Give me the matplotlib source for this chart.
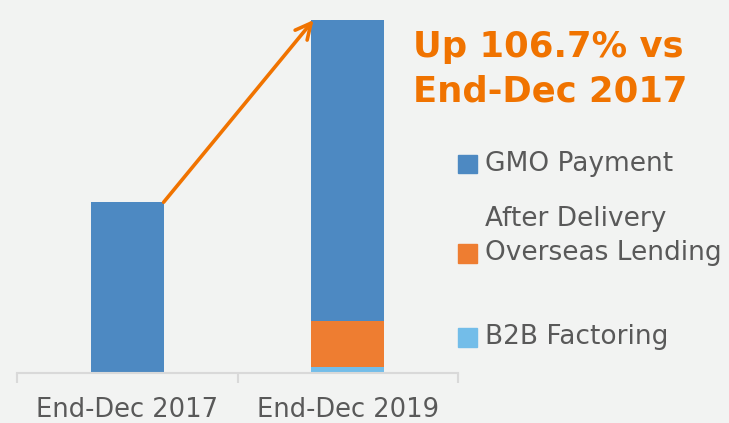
import matplotlib

matplotlib.use("Agg")
import matplotlib.pyplot as plt
from matplotlib.patches import Rectangle

# lending balance, indexed to End-Dec 2017 = 100
categories = ["End-Dec 2017", "End-Dec 2019"]
gmo_payment = [100.0, 176.2]
overseas_lending = [0.0, 27.0]
b2b_factoring = [0.0, 3.5]

series_labels = ["GMO Payment", "After Delivery\nOverseas Lending", "B2B Factoring"]
series_colors = ["#4d89c2", "#ee7d31", "#73bde9"]
callout = ["Up 106.7% vs", "End-Dec 2017"]

BG = "#f2f3f2"
ORANGE = "#f07300"
GREY = "#595959"


def main() -> None:
    fig = plt.figure(figsize=(7.29, 4.23), dpi=100, facecolor=BG)
    ax = fig.add_axes([17 / 729, 50 / 423, 441 / 729, 353 / 423])
    ax.set_facecolor(BG)

    x = range(len(categories))
    width = 0.33
    ax.bar(x, b2b_factoring, width, color=series_colors[2])
    ax.bar(x, overseas_lending, width, bottom=b2b_factoring, color=series_colors[1])
    base = [a + b for a, b in zip(b2b_factoring, overseas_lending)]
    ax.bar(x, gmo_payment, width, bottom=base, color=series_colors[0])

    totals = [a + b for a, b in zip(base, gmo_payment)]
    ax.set_xlim(-0.5, 1.5)
    ax.set_ylim(0, totals[1])

    # growth arrow: top-right corner of first bar -> top-left corner of second bar
    ax.annotate("", xy=(1 - width / 2 + 0.01, totals[1]),
                xytext=(width / 2, totals[0]),
                arrowprops=dict(arrowstyle="->", color=ORANGE, lw=2.6,
                                mutation_scale=28, shrinkA=0, shrinkB=0),
                annotation_clip=False)

    for side in ("top", "right", "left"):
        ax.spines[side].set_visible(False)
    ax.spines["bottom"].set_color("#d9d9d9")
    ax.spines["bottom"].set_linewidth(1.5)
    ax.set_yticks([])
    ax.set_xticks(list(x))
    ax.set_xticklabels(categories, fontsize=18.5, color=GREY)
    ax.tick_params(axis="x", which="major", length=0, pad=17)
    ax.set_xticks([-0.5, 0.5, 1.5], minor=True)
    ax.tick_params(axis="x", which="minor", length=7.5, width=1.5,
                   color="#d9d9d9", direction="out")

    for line, base_y in zip(callout, [57, 102]):
        fig.text(413 / 729, 1 - base_y / 423, line, fontsize=25.5, fontweight="bold",
                 color=ORANGE, ha="left", va="baseline")

    # legend, drawn by hand to match the spacing of the original
    legend_y = [164, 253, 337]
    for label, color, yc in zip(series_labels, series_colors, legend_y):
        fig.patches.append(Rectangle((458 / 729, 1 - (yc + 9.5) / 423), 19 / 729, 19 / 423,
                                     transform=fig.transFigure, color=color))
        lines = label.split("\n")
        fig.text(485 / 729, 1 - yc / 423, lines[-1], fontsize=19, color=GREY,
                 ha="left", va="center")
        if len(lines) > 1:
            fig.text(485 / 729, 1 - (yc - 34) / 423, lines[0], fontsize=19,
                     color=GREY, ha="left", va="center")

    fig.savefig("out.png", dpi=100, facecolor=BG)
    plt.close(fig)


if __name__ == "__main__":
    main()
